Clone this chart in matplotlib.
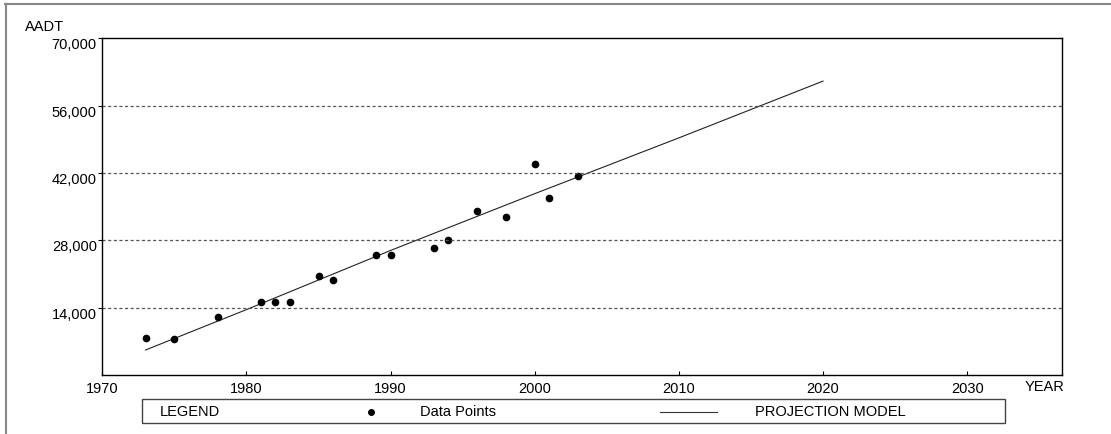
import numpy as np
import matplotlib.pyplot as plt
from matplotlib.lines import Line2D
from matplotlib.patches import Rectangle

plt.rcParams['font.family'] = ['Liberation Sans', 'DejaVu Sans']

# observed counts
years = [1973, 1975, 1978, 1981, 1982, 1983, 1985, 1986, 1989, 1990,
         1993, 1994, 1996, 1998, 2000, 2001, 2003]
aadt = [7600, 7400, 12000, 15200, 15200, 15200, 20600, 19700, 24900, 24900,
        26400, 28000, 34100, 32900, 43800, 36800, 41300]

# projection model
proj_years = [1973, 1980, 1990, 2000, 2010, 2020]
proj_aadt = [5200, 13600, 25900, 37700, 49300, 61100]

yticks = [14000, 28000, 42000, 56000, 70000]
xticks = [1970, 1980, 1990, 2000, 2010, 2020, 2030]

FS = 10.5

fig = plt.figure(figsize=(11.11, 4.34), dpi=100)
ax = fig.add_axes([0.0921, 0.1359, 0.8641, 0.7759])

ax.plot(proj_years, proj_aadt, color='#222222', lw=0.8)
ax.plot(years, aadt, 'o', color='black', ms=4.5, ls='none')

for v in yticks[:-1]:
    ax.axhline(v, color='#555555', lw=0.9, ls=(0, (2.5, 2)))

ax.set_xlim(1970, 2036.6)
ax.set_ylim(0, 70000)
ax.set_xticks(xticks)
ax.set_xticklabels([str(x) for x in xticks])
ax.set_yticks(yticks)
ax.set_yticklabels([f'{v:,}' for v in yticks])
ax.tick_params(axis='x', direction='in', length=3, pad=5, labelsize=FS)
ax.tick_params(axis='y', direction='out', length=3, pad=1, labelsize=FS)
for lab in ax.get_yticklabels():
    lab.set_verticalalignment('top')
for s in ax.spines.values():
    s.set_linewidth(1.0)

fig.text(25 / 1111, 1 - 27 / 434, 'AADT', fontsize=FS, va='center', ha='left')
fig.text(1045 / 1111, 1 - 387 / 434, 'YEAR', fontsize=FS, va='center', ha='center')

# legend box
fig.add_artist(Rectangle((141.7 / 1111, 1 - 423 / 434), (1005.3 - 141.7) / 1111, 24 / 434,
                         transform=fig.transFigure, fill=False, edgecolor='#444444', lw=1.0))
ly = 1 - 411.5 / 434
fig.text(160 / 1111, ly, 'LEGEND', fontsize=FS, va='center')
fig.add_artist(Line2D([371 / 1111], [ly], marker='o', ms=4, color='black', transform=fig.transFigure))
fig.text(420 / 1111, ly, 'Data Points', fontsize=FS, va='center')
fig.add_artist(Line2D([660 / 1111, 717 / 1111], [ly, ly], color='#333333', lw=0.8, transform=fig.transFigure))
fig.text(755 / 1111, ly, 'PROJECTION MODEL', fontsize=FS, va='center')

# outer frame (top and left only)
fig.add_artist(Line2D([5 / 1111, 1], [1 - 3.5 / 434, 1 - 3.5 / 434], color='#888888', lw=1.5, transform=fig.transFigure))
fig.add_artist(Line2D([5.5 / 1111, 5.5 / 1111], [0, 1 - 3.5 / 434], color='#888888', lw=1.5, transform=fig.transFigure))

fig.savefig('out.png', dpi=100)
